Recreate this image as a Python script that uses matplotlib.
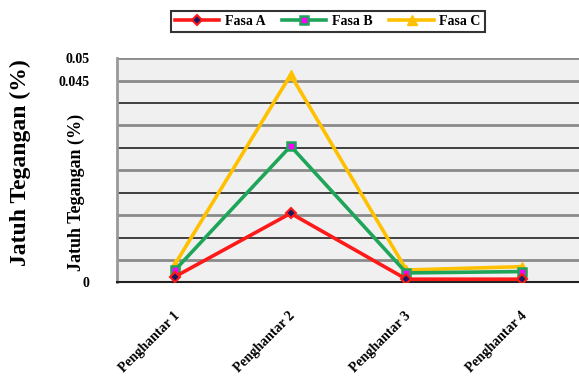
import numpy as np
import matplotlib
matplotlib.use("Agg")
import matplotlib.pyplot as plt
from matplotlib.transforms import ScaledTranslation

categories = ["Penghantar 1", "Penghantar 2", "Penghantar 3", "Penghantar 4"]
fasa_a = [0.00125, 0.0154, 0.0007, 0.0007]
fasa_b = [0.0027, 0.0304, 0.0021, 0.0024]
fasa_c = [0.0040, 0.0463, 0.00275, 0.0035]
y_ticks = [round(v, 3) for v in np.arange(0, 0.0501, 0.005)]
y_tick_labels = {0.0: "0", 0.045: "0.045", 0.05: "0.05"}

serif = ["Liberation Serif", "DejaVu Serif"]
plt.rcParams["font.family"] = serif

fig = plt.figure(figsize=(5.79, 3.85), dpi=100)
ax = fig.add_axes([0.202, 0.2667, 0.80, 0.5819])
ax.set_facecolor("#f0f0f0")

x = np.arange(len(categories))
ax.plot(x, fasa_a, color="#ff1a1a", lw=2.6, marker="D", ms=5,
        mfc="#1a1a60", mec="#ff1a1a", mew=1.5, label="Fasa A", zorder=5)
ax.plot(x, fasa_b, color="#1fa55a", lw=2.6, marker="s", ms=6,
        mfc="#ff00ff", mec="#1fa55a", mew=1.8, label="Fasa B", zorder=4)
ax.plot(x, fasa_c, color="#ffc000", lw=2.6, marker="^", ms=7,
        mfc="#ffc000", mec="#ffc000", label="Fasa C", zorder=3)

ax.set_xlim(-0.5, 3.5)
ax.set_ylim(0, 0.05)
ax.set_yticks(y_ticks)
ax.set_yticklabels([y_tick_labels.get(v, "") for v in y_ticks],
                   fontsize=10, fontweight="bold")
for i, v in enumerate(y_ticks):
    if v == 0:
        continue
    grey = (i % 2 == 1) or v == 0.05
    ax.axhline(v, color="#8a8a8a" if grey else "#222222",
               lw=2.0 if grey else 1.2, zorder=1)
ax.tick_params(axis="y", length=0, pad=20)
ax.tick_params(axis="x", length=0, pad=6)
ax.set_xticks(x)
ax.set_xticklabels(categories, rotation=45, ha="right", rotation_mode="anchor",
                   fontsize=10, fontweight="bold")
for lbl in ax.get_xticklabels():
    lbl.set_transform(lbl.get_transform() + ScaledTranslation(-0.02, -0.19, fig.dpi_scale_trans))

for s in ["top", "right"]:
    ax.spines[s].set_visible(False)
ax.spines["left"].set_color("#999999")
ax.spines["left"].set_linewidth(2)
ax.spines["bottom"].set_color("#222222")
ax.spines["bottom"].set_linewidth(1.5)

ax.set_ylabel("Jatuh Tegangan (%)", fontsize=13, fontweight="bold")
ax.yaxis.set_label_coords(-0.07, 0.40)
fig.text(0.035, 0.578, "Jatuh Tegangan (%)", rotation=90, fontsize=17,
         fontweight="bold", ha="center", va="center")

leg = fig.legend(loc="center", bbox_to_anchor=(0.566, 0.944), ncol=3,
                 frameon=True, fancybox=False, prop={"weight": "bold", "size": 10},
                 handlelength=3.2, columnspacing=1.2, handletextpad=0.4,
                 borderpad=0.3, edgecolor="black")
leg.get_frame().set_linewidth(1.5)

fig.savefig("out.png", dpi=100)
